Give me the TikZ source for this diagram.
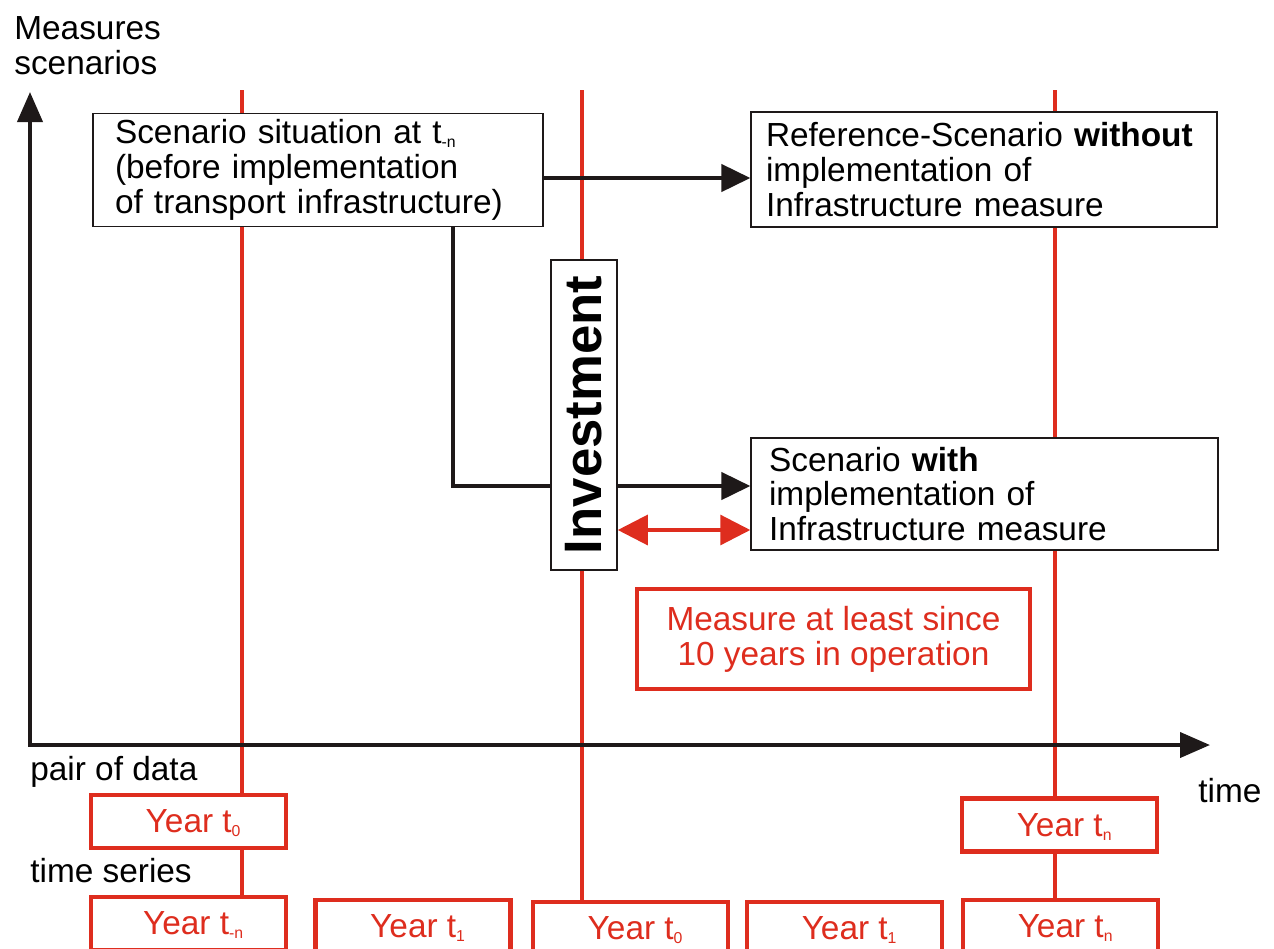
\documentclass[tikz,border=0pt]{standalone}
\usepackage{fontspec}
\setmainfont{Liberation Sans}
\usetikzlibrary{arrows.meta}
\definecolor{mred}{RGB}{222,45,30}
\definecolor{mblack}{RGB}{30,25,25}
\newcommand{\lowsub}[1]{\smash{\raisebox{-0.12em}{\fontsize{9}{9}\selectfont #1}}}

\begin{document}
\begin{tikzpicture}[x=0.02cm, y=-0.02cm,
    every node/.style={font=\fontsize{19}{19.8}\selectfont},
    scenbox/.style={draw=mblack, line width=0.9pt, fill=white, align=left},
    redbox/.style={draw=mred, line width=2.5pt, fill=white, text=mred, minimum width=3.9cm, minimum height=1.06cm},
    timeline/.style={mred, line width=2.1pt},
    flow/.style={mblack, line width=1.8pt, -{Triangle[length=0.58cm, width=0.55cm]}},
    twoway/.style={mred, line width=1.8pt, {Triangle[length=0.6cm, width=0.6cm]}-{Triangle[length=0.6cm, width=0.6cm]}},
    axis/.style={mblack, line width=2.3pt, {Triangle[length=0.6cm, width=0.5cm]}-{Triangle[length=0.6cm, width=0.5cm]}}]
    \useasboundingbox (0,0) rectangle (1274,948);
    \clip (0,0) rectangle (1274,948);

    % Year boxes (pair of data / time series)
    \node[redbox] (pair0) at (188.5,821.5) {~Year t\lowsub{0}};
    \node[redbox] (pairn) at (1059.5,825) {~Year t\lowsub{n}};
    \node[redbox] (sermn) at (188.5,923.5) {~Year t\lowsub{-n}};
    \node[redbox] (ser1a) at (413,926.5) {~Year t\lowsub{1}};
    \node[redbox] (ser0) at (630.5,928.5) {~Year t\lowsub{0}};
    \node[redbox] (ser1b) at (844.5,928.5) {~Year t\lowsub{1}};
    \node[redbox] (sern) at (1060.5,926.5) {~Year t\lowsub{n}};

    % Time lines
    \coordinate (tl1) at (242,90);
    \coordinate (tl2) at (582,90);
    \coordinate (tl3) at (1055,90);
    \draw[timeline] (tl1) -- (tl1 |- pair0.north);
    \draw[timeline] (tl1 |- pair0.south) -- (tl1 |- sermn.north);
    \draw[timeline] (tl2) -- (tl2 |- ser0.north);
    \draw[timeline] (tl3) -- (tl3 |- pairn.north);
    \draw[timeline] (tl3 |- pairn.south) -- (tl3 |- sern.north);

    % Scenarios
    \node[scenbox, minimum width=9cm, minimum height=2.26cm, text width=8.12cm, inner xsep=0.44cm] (before) at (318,170)
        {Scenario situation at t\lowsub{-n}\\(before implementation\\of transport infrastructure)};
    \node[scenbox, minimum width=9.32cm, minimum height=2.3cm, text width=8.72cm, inner xsep=0.3cm] (without) at (984,169.5)
        {Reference-Scenario \textbf{without}\\implementation of\\Infrastructure measure};
    \node[scenbox, minimum width=9.34cm, minimum height=2.24cm, text width=8.62cm, inner xsep=0.36cm] (with) at (984.5,494)
        {Scenario \textbf{with}\\implementation of\\Infrastructure measure};
    \node[redbox, minimum width=7.86cm, minimum height=2cm, align=center] (opnote) at (833.5,639)
        {Measure at least since\\10 years in operation};

    % Axes
    \coordinate (origin) at (30,745);
    \coordinate (ytip) at (30,92);
    \coordinate (xtip) at (1210,745);
    \draw[axis] (ytip) -- (origin) -- (xtip);
    \node[anchor=north west, align=left, inner sep=0] (ylabel) at (14,16) {Measures\\scenarios};
    \node[anchor=base west, inner sep=0] (xlabel) at (1198,802) {time};
    \node[anchor=base west, inner sep=0] (pairlabel) at (30,780) {pair of data};
    \node[anchor=base west, inner sep=0] (serlabel) at (30,882) {time series};

    % Flows
    \draw[flow] ([yshift=-0.16cm]before.east) -- ([yshift=-0.16cm]before.east -| without.west);
    \draw[flow] ([xshift=2.7cm]before.south) |- ([yshift=0.16cm]with.west);
    \node[draw=mblack, line width=0.9pt, fill=white, rotate=90, minimum width=6.2cm, minimum height=1.32cm,
        font=\bfseries\fontsize{30}{30}\selectfont] (invest) at (584,415) {Investment};
    \draw[twoway] ([yshift=-0.72cm]with.west -| invest.south) -- ([yshift=-0.72cm]with.west);
\end{tikzpicture}
\end{document}
